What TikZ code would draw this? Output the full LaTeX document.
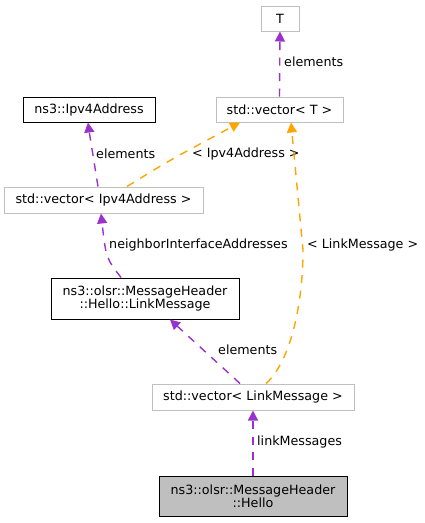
\documentclass[tikz,border=0pt]{standalone}
\usepackage{fontspec}
\setmainfont{DejaVu Sans}
\usetikzlibrary{arrows.meta}
\definecolor{edgepurple}{HTML}{9A32CD}
\definecolor{edgeorange}{HTML}{FFA500}
\definecolor{boxgray}{HTML}{BFBFBF}

\begin{document}
\begin{tikzpicture}[x=1pt,y=-1pt,
    font=\fontsize{12.7}{13.4}\selectfont,
    cls/.style={draw=black,line width=1pt,fill=white,inner sep=0pt,align=center},
    ext/.style={draw=boxgray,line width=1pt,fill=white,inner sep=0pt,align=center},
    cur/.style={draw=black,line width=1pt,fill=boxgray,inner sep=0pt,align=center},
    uses/.style={draw=edgepurple,line width=1.4pt,dash pattern=on 8pt off 7.5pt,-{Triangle[length=10pt,width=10pt]}},
    tmpl/.style={draw=edgeorange,line width=1.4pt,dash pattern=on 8pt off 7.5pt,-{Triangle[length=10pt,width=10pt]}},
    lbl/.style={anchor=west,inner sep=0pt}]
                    \useasboundingbox (0,0) rectangle (425,523);
                    \node [ext,minimum width=38pt,minimum height=25pt] (T) at (280,18.5) {T};
                    \node [ext,minimum width=127pt,minimum height=25pt] (vecT) at (279.5,109.5) {std::vector< T >};
                    \node [cls,minimum width=132pt,minimum height=25pt] (ipv4) at (89,109.5) {ns3::Ipv4Address};
                    \node [ext,minimum width=199pt,minimum height=26pt] (vecIpv4) at (103.5,200) {std::vector< Ipv4Address >};
                    \node [cls,minimum width=188pt,minimum height=41pt] (linkMsg) at (145,298.5) {ns3::olsr::MessageHeader\\::Hello::LinkMessage};
                    \node [ext,minimum width=202pt,minimum height=26pt] (vecLink) at (253,397) {std::vector< LinkMessage >};
                    \node [cur,minimum width=188pt,minimum height=40pt] (hello) at (253,496) {ns3::olsr::MessageHeader\\::Hello};
                    \draw [uses] (vecT.north) -- (T.south);
                    \node [lbl] at (284,62) {elements};
                    \draw [uses] ([xshift=-5.5pt]vecIpv4.north) .. controls (93,160) .. ([xshift=-1pt]ipv4.south);
                    \node [lbl] at (96,154) {elements};
                    \draw [tmpl] ([xshift=23.5pt]vecIpv4.north) .. controls (170,160) .. ([xshift=-39.5pt]vecT.south);
                    \node [lbl] at (192,154) {< Ipv4Address >};
                    \draw [uses] ([xshift=-24pt]linkMsg.north) .. controls (106,258) .. ([xshift=-2.5pt]vecIpv4.south);
                    \node [lbl] at (109,245) {neighborInterfaceAddresses};
                    \draw [tmpl] ([xshift=13pt]vecLink.north) .. controls (292,360) and (303,300) .. (303,250) -- ([xshift=11.5pt]vecT.south);
                    \node [lbl] at (307,245) {< LinkMessage >};
                    \draw [uses] ([xshift=-13pt]vecLink.north) -- ([xshift=25pt]linkMsg.south);
                    \node [lbl] at (218,350) {elements};
                    \draw [uses] (hello.north) -- (vecLink.south);
                    \node [lbl] at (257,442) {linkMessages};
\end{tikzpicture}
\end{document}
